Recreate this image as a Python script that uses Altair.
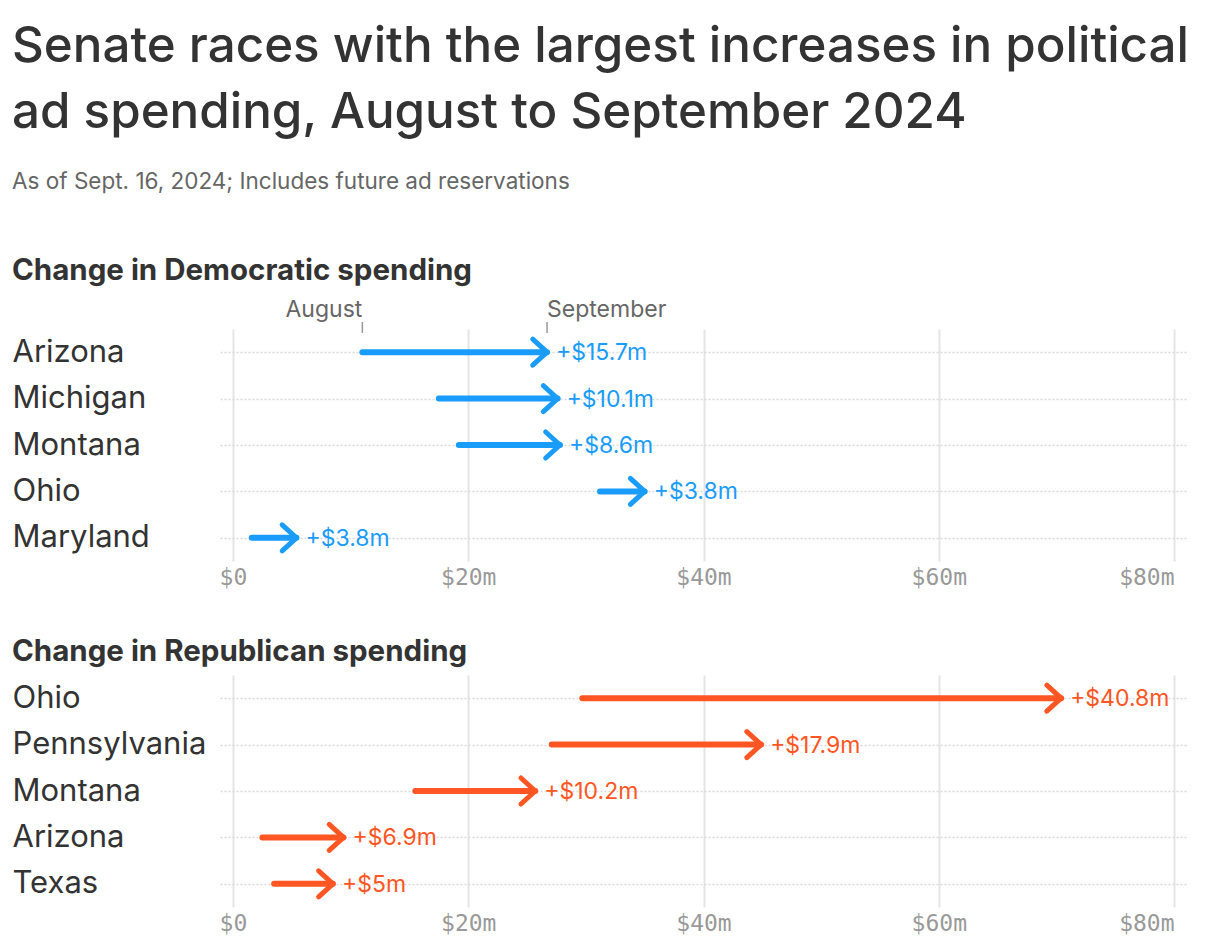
import altair as alt
import pandas as pd

# ---- data ----
dem_states = ["Arizona", "Michigan", "Montana", "Ohio", "Maryland"]
dem_aug = [11.0, 17.5, 19.2, 31.2, 1.6]
dem_sep = [26.7, 27.6, 27.8, 35.0, 5.4]
dem_labels = ["+$15.7m", "+$10.1m", "+$8.6m", "+$3.8m", "+$3.8m"]

rep_states = ["Ohio", "Pennsylvania", "Montana", "Arizona", "Texas"]
rep_aug = [29.7, 27.1, 15.5, 2.5, 3.5]
rep_sep = [70.4, 44.9, 25.7, 9.4, 8.5]
rep_labels = ["+$40.8m", "+$17.9m", "+$10.2m", "+$6.9m", "+$5m"]

tick_values = [0, 20, 40, 60, 80]
month_labels = ["August", "September"]

BLUE = "#1a9cfc"
RED = "#ff5623"
FONT = "Inter"
MONO = "DejaVu Sans Mono"
DARK = "#333333"


def panel(states, aug, sep, labels, color, title, annotate, title_offset):
    df = pd.DataFrame({"state": states, "aug": aug, "sep": sep, "label": labels})
    xscale = alt.Scale(domain=[-1.1, 81.1], nice=False, zero=False)
    yscale = alt.Scale(type="point", padding=0.5)
    base = alt.Chart(df)
    y = alt.Y(
        "state:N",
        sort=states,
        scale=yscale,
        title=None,
        axis=alt.Axis(
            domain=False,
            ticks=False,
            labelAlign="left",
            labelPadding=208,
            labelLimit=0,
            labelFont=FONT,
            labelFontSize=31,
            labelColor=DARK,
            grid=True,
            gridDash=[2, 2],
            gridColor="#d9d9d9",
            gridWidth=1.6,
        ),
    )
    line = base.mark_rule(strokeWidth=6, strokeCap="round", color=color).encode(
        x=alt.X(
            "aug:Q",
            scale=xscale,
            title=None,
            axis=alt.Axis(
                values=tick_values,
                labelExpr="datum.value == 0 ? '$0' : '$' + datum.value + 'm'",
                labelAlign={"condition": {"test": "datum.value == 80", "value": "right"}, "value": "center"},
                domain=False,
                ticks=False,
                labelPadding=5,
                labelFont=MONO,
                labelFontSize=23,
                labelColor="#999999",
                grid=True,
                gridColor="#e4e4e4",
                gridWidth=2,
            ),
        ),
        x2="sep:Q",
        y=y,
    )
    head = base.mark_point(
        shape="M -1.1 -1 L 0 0 L -1.1 1",
        size=676,
        filled=False,
        strokeWidth=5,
        color=color,
        opacity=1,
        strokeCap="round",
        strokeJoin="round",
    ).encode(x="sep:Q", y=alt.Y("state:N", sort=states))
    text = base.mark_text(
        align="left", baseline="middle", dx=9, dy=1, font=FONT, fontSize=23, color=color
    ).encode(x="sep:Q", y=alt.Y("state:N", sort=states), text="label:N")
    layers = [line, head, text]
    if annotate:
        ann = pd.DataFrame({"x": [aug[0], sep[0]], "label": month_labels})
        abase = alt.Chart(ann)
        aug_t = abase.transform_filter(alt.datum.label == month_labels[0]).mark_text(
            align="right", baseline="alphabetic", font=FONT, fontSize=23, color="#666666"
        ).encode(x="x:Q", y=alt.value(-12), text="label:N")
        sep_t = abase.transform_filter(alt.datum.label == month_labels[1]).mark_text(
            align="left", baseline="alphabetic", font=FONT, fontSize=23, color="#666666"
        ).encode(x="x:Q", y=alt.value(-12), text="label:N")
        ticks = abase.mark_rule(color="#999999", strokeWidth=1.5).encode(
            x="x:Q", y=alt.value(-7), y2=alt.value(4)
        )
        layers += [ticks, aug_t, sep_t]
    return alt.layer(*layers).properties(
        width=967,
        height=232,
        title=alt.Title(
            title,
            anchor="start",
            font=FONT,
            fontSize=29.5,
            fontWeight="bold",
            color=DARK,
            offset=title_offset,
        ),
    )


p1 = panel(dem_states, dem_aug, dem_sep, dem_labels, BLUE, "Change in Democratic spending", True, 13)
p2 = panel(rep_states, rep_aug, rep_sep, rep_labels, RED, "Change in Republican spending", False, 8)

chart = (
    alt.vconcat(p1, p2, spacing=47)
    .properties(
        title=alt.Title(
            ["Senate races with the largest increases in political", "ad spending, August to September 2024"],
            subtitle="As of Sept. 16, 2024; Includes future ad reservations",
            anchor="start",
            font=FONT,
            fontSize=49.3,
            fontWeight=500,
            lineHeight=66,
            color=DARK,
            subtitleFont=FONT,
            subtitleFontSize=22.5,
            subtitleColor="#666666",
            subtitlePadding=33,
            offset=62,
        ),
        padding={"left": 12, "top": 22, "right": 20, "bottom": 10},
    )
    .configure_view(stroke=None)
)

chart.save("out.html", embed_options={"renderer": "svg", "actions": False})
